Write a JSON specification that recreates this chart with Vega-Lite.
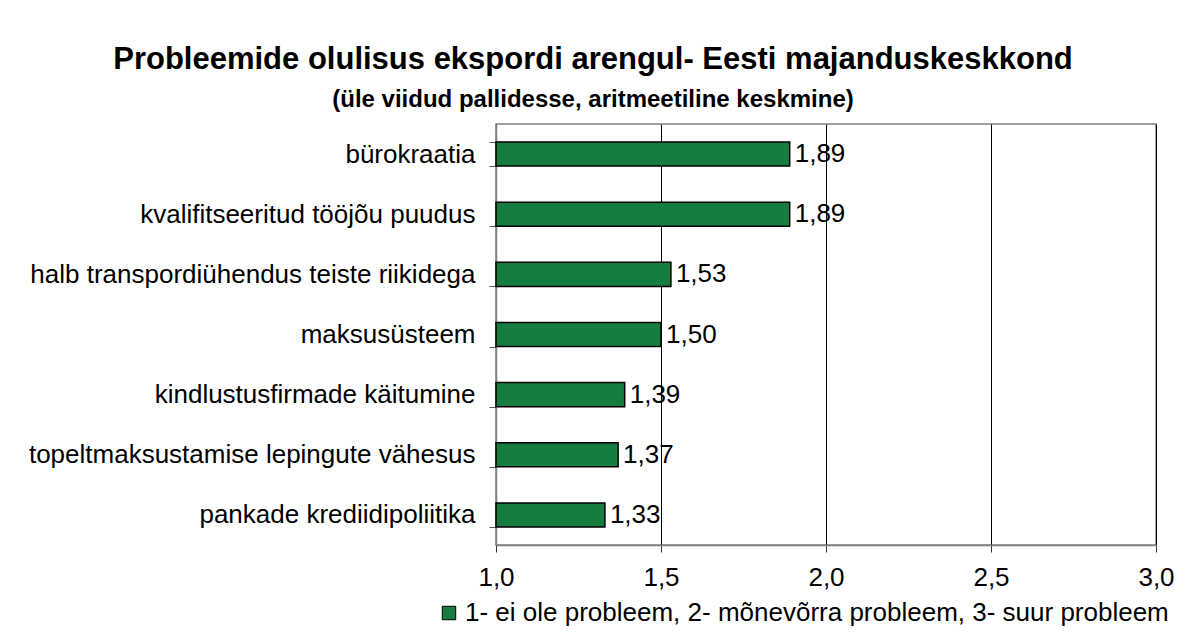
{
  "$schema": "https://vega.github.io/schema/vega-lite/v6.json",
  "autosize": "none",
  "width": 660,
  "height": 421,
  "padding": {"left": 496, "top": 124, "right": 37, "bottom": 87},
  "background": "white",
  "title": {
    "text": "Probleemide olulisus ekspordi arengul- Eesti majanduskeskkond",
    "subtitle": "(üle viidud pallidesse, aritmeetiline keskmine)",
    "anchor": "middle",
    "frame": "group",
    "dx": -233,
    "offset": -2,
    "font": "Liberation Sans",
    "fontSize": 31,
    "fontWeight": "bold",
    "color": "black",
    "subtitleFont": "Liberation Sans",
    "subtitleFontSize": 24,
    "subtitleFontWeight": "bold",
    "subtitleColor": "black",
    "subtitlePadding": 12
  },
  "data": {
    "values": [
      {"problem": "bürokraatia", "value": 1.89},
      {"problem": "kvalifitseeritud tööjõu puudus", "value": 1.89},
      {"problem": "halb transpordiühendus teiste riikidega", "value": 1.53},
      {"problem": "maksusüsteem", "value": 1.50},
      {"problem": "kindlustusfirmade käitumine", "value": 1.39},
      {"problem": "topeltmaksustamise lepingute vähesus", "value": 1.37},
      {"problem": "pankade krediidipoliitika", "value": 1.33}
    ]
  },
  "encoding": {
    "y": {
      "field": "problem",
      "type": "nominal",
      "sort": null,
      "scale": {"paddingInner": 0.6, "paddingOuter": 0.3},
      "axis": {
        "title": null,
        "tickBand": "extent",
        "labelFont": "Liberation Sans",
        "labelFontSize": 26,
        "labelColor": "black",
        "labelLimit": 0,
        "labelPadding": 14,
        "tickSize": 7,
        "tickColor": "#555555",
        "domainColor": "#808080",
        "domainWidth": 1.5,
        "grid": false
      }
    }
  },
  "layer": [
    {
      "mark": {"type": "bar", "stroke": "black", "strokeWidth": 1.5},
      "encoding": {
        "x": {
          "field": "value",
          "type": "quantitative",
          "scale": {"domain": [1, 3], "zero": false, "nice": false},
          "axis": {
            "title": null,
            "values": [1, 1.5, 2, 2.5, 3],
            "format": ".1f",
            "labelFlush": false,
            "labelFont": "Liberation Sans",
            "labelFontSize": 26,
            "labelColor": "black",
            "labelPadding": 12,
            "tickSize": 7,
            "tickColor": "#333333",
            "domainColor": "#808080",
            "domainWidth": 1.5,
            "grid": true,
            "gridColor": "black",
            "gridWidth": 1
          }
        },
        "x2": {"datum": 1},
        "color": {
          "datum": "1- ei ole probleem, 2- mõnevõrra probleem, 3- suur probleem",
          "type": "nominal",
          "scale": {"range": ["#177C40"]},
          "legend": {
            "title": null,
            "orient": "none",
            "legendX": -60,
            "legendY": 476,
            "symbolType": "square",
            "symbolSize": 180,
            "symbolStrokeColor": "black",
            "symbolStrokeWidth": 1,
            "symbolOpacity": 1,
            "labelFont": "Liberation Sans",
            "labelFontSize": 26,
            "labelColor": "black",
            "labelLimit": 0,
            "labelOffset": 3
          }
        }
      }
    },
    {
      "mark": {"type": "text", "align": "left", "baseline": "middle", "dx": 5, "font": "Liberation Sans", "fontSize": 26, "color": "black"},
      "encoding": {
        "x": {"field": "value", "type": "quantitative"},
        "text": {"field": "value", "type": "quantitative", "format": ".2f"}
      }
    }
  ],
  "config": {
    "locale": {"number": {"decimal": ",", "thousands": " ", "grouping": [3], "currency": ["", ""]}},
    "view": {"stroke": "#808080", "strokeWidth": 1.5}
  }
}
